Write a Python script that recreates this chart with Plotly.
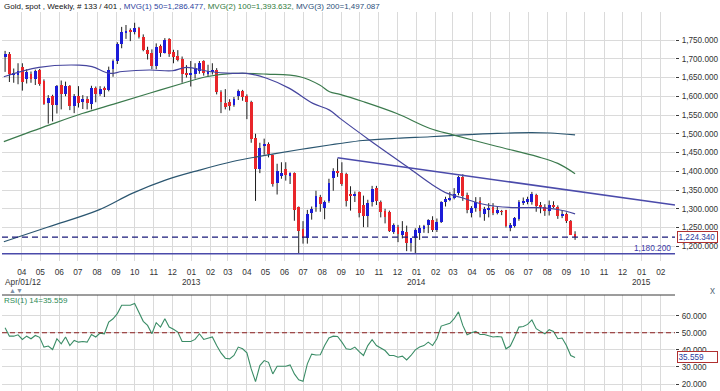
import pandas as pd
import plotly.graph_objects as go

# ---------------- data ----------------
start_week = "2012-03-05"   # first weekly bar (133 bars)

opens = [1704, 1712, 1657, 1658, 1678, 1645, 1660, 1645, 1670, 1640,
         1582, 1601, 1577, 1630, 1605, 1627, 1574, 1600, 1586, 1592,
         1580, 1622, 1606, 1622, 1617, 1673, 1694, 1740, 1770, 1775,
         1772, 1781, 1757, 1724, 1716, 1680, 1735, 1716, 1752, 1718,
         1708, 1700, 1662, 1658, 1660, 1668, 1693, 1660, 1667, 1670,
         1612, 1582, 1584, 1578, 1600, 1614, 1602, 1584, 1490, 1405,
         1468, 1474, 1443, 1368, 1390, 1405, 1390, 1396, 1306, 1245,
         1222, 1290, 1305, 1332, 1302, 1320, 1381, 1402, 1396, 1394,
         1340, 1333, 1346, 1310, 1280, 1318, 1355, 1319, 1295, 1292,
         1239, 1252, 1230, 1239, 1208, 1221, 1236, 1247, 1257, 1270,
         1243, 1265, 1318, 1325, 1328, 1341, 1385, 1337, 1290, 1303,
         1320, 1286, 1298, 1305, 1290, 1294, 1297, 1250, 1255, 1274,
         1316, 1319, 1319, 1337, 1310, 1306, 1294, 1310, 1305, 1280,
         1287, 1268, 1234]
highs = [1721, 1718, 1674, 1688, 1688, 1672, 1666, 1671, 1673, 1645,
         1603, 1604, 1630, 1642, 1639, 1630, 1606, 1627, 1603, 1600,
         1628, 1626, 1627, 1626, 1679, 1698, 1744, 1785, 1790, 1781,
         1796, 1785, 1765, 1732, 1725, 1741, 1738, 1755, 1755, 1724,
         1723, 1706, 1683, 1694, 1688, 1694, 1696, 1684, 1688, 1675,
         1616, 1619, 1592, 1598, 1618, 1617, 1605, 1588, 1500, 1476,
         1487, 1477, 1445, 1420, 1424, 1424, 1397, 1397, 1306, 1267,
         1297, 1306, 1348, 1337, 1322, 1380, 1408, 1434, 1424, 1396,
         1360, 1346, 1346, 1335, 1324, 1361, 1361, 1322, 1300, 1295,
         1261, 1257, 1267, 1255, 1221, 1248, 1256, 1257, 1272, 1280,
         1274, 1320, 1332, 1345, 1355, 1388, 1392, 1343, 1307, 1331,
         1331, 1305, 1315, 1315, 1305, 1297, 1297, 1262, 1278, 1323,
         1330, 1332, 1345, 1340, 1318, 1312, 1322, 1320, 1309, 1296,
         1290, 1270, 1240]
lows = [1665, 1638, 1636, 1632, 1615, 1634, 1636, 1630, 1628, 1577,
        1527, 1533, 1554, 1565, 1600, 1563, 1555, 1570, 1566, 1565,
        1565, 1584, 1601, 1598, 1613, 1652, 1686, 1728, 1753, 1747,
        1765, 1754, 1720, 1698, 1672, 1672, 1705, 1714, 1705, 1688,
        1693, 1636, 1650, 1626, 1647, 1660, 1655, 1652, 1658, 1605,
        1555, 1565, 1562, 1572, 1590, 1588, 1539, 1476, 1321, 1395,
        1444, 1437, 1359, 1338, 1380, 1375, 1366, 1268, 1180, 1207,
        1207, 1271, 1292, 1292, 1272, 1316, 1348, 1385, 1361, 1306,
        1295, 1318, 1277, 1251, 1251, 1306, 1310, 1277, 1261, 1238,
        1233, 1211, 1221, 1187, 1186, 1182, 1217, 1236, 1235, 1238,
        1238, 1262, 1306, 1320, 1325, 1336, 1321, 1288, 1277, 1292,
        1277, 1268, 1277, 1283, 1285, 1283, 1250, 1240, 1250, 1268,
        1310, 1312, 1311, 1292, 1288, 1281, 1282, 1302, 1273, 1275,
        1262, 1230, 1217]
closes = [1712, 1659, 1662, 1667, 1638, 1664, 1645, 1668, 1632, 1580,
          1595, 1577, 1628, 1605, 1628, 1574, 1600, 1582, 1592, 1583,
          1622, 1606, 1620, 1617, 1671, 1694, 1740, 1772, 1775, 1772,
          1783, 1758, 1724, 1714, 1680, 1731, 1716, 1751, 1712, 1706,
          1697, 1660, 1657, 1660, 1675, 1690, 1661, 1667, 1670, 1612,
          1584, 1572, 1574, 1592, 1614, 1598, 1586, 1485, 1405, 1462,
          1474, 1447, 1365, 1400, 1395, 1390, 1395, 1298, 1240, 1223,
          1285, 1300, 1335, 1314, 1318, 1370, 1402, 1398, 1366, 1320,
          1335, 1340, 1290, 1280, 1315, 1352, 1322, 1292, 1279, 1242,
          1256, 1234, 1240, 1208, 1221, 1243, 1250, 1254, 1270, 1243,
          1265, 1318, 1325, 1328, 1340, 1385, 1335, 1296, 1303, 1318,
          1293, 1300, 1302, 1290, 1296, 1292, 1254, 1257, 1276, 1318,
          1319, 1326, 1339, 1308, 1306, 1294, 1310, 1305, 1280, 1287,
          1268, 1231, 1224.34]

rsi = [52.9, 48.0, 48.0, 48.8, 46.1, 48.0, 46.5, 48.4, 47.3, 41.6,
       42.2, 40.2, 46.5, 43.5, 47.5, 42.5, 45.5, 44.5, 44.9, 44.5,
       49.0, 47.5, 49.8, 49.4, 56.3, 58.2, 61.2, 66.1, 66.1, 66.1,
       67.1, 62.2, 56.7, 54.3, 49.4, 55.9, 53.3, 58.2, 53.3, 52.0,
       50.4, 44.9, 44.9, 44.9, 46.1, 49.4, 46.1, 46.9, 47.5, 42.5,
       38.2, 35.1, 34.7, 36.7, 41.6, 40.6, 38.2, 28.8, 21.4, 30.8,
       33.7, 32.7, 25.9, 30.4, 30.4, 30.4, 31.2, 25.9, 22.5, 21.6,
       31.8, 37.5, 37.0, 37.1, 42.5, 46.9, 48.0, 47.8, 44.5, 40.6,
       40.2, 41.6, 39.0, 36.7, 42.5, 45.9, 42.5, 40.8, 39.6, 36.7,
       36.7, 35.7, 36.3, 34.1, 36.7, 40.0, 41.6, 42.5, 44.5, 42.5,
       46.5, 53.9, 54.7, 55.5, 58.2, 62.2, 54.3, 48.8, 50.0, 50.8,
       49.0, 49.0, 48.2, 47.5, 47.8, 47.5, 40.6, 42.2, 47.5, 53.3,
       53.7, 54.9, 57.5, 52.4, 50.8, 49.4, 51.8, 50.8, 46.5, 46.9,
       42.5, 36.7, 35.559]

ma50_dates = ["2012-03-03", "2012-04-29", "2012-07-03", "2012-07-24", "2012-08-21",
              "2012-09-11", "2012-10-25", "2012-12-01", "2012-12-24", "2013-01-30",
              "2013-03-09", "2013-03-31", "2013-05-03", "2013-06-09", "2013-07-17",
              "2013-08-13", "2013-08-30", "2013-10-17", "2013-12-17", "2014-01-23",
              "2014-02-20", "2014-03-18", "2014-04-14", "2014-05-12", "2014-06-13",
              "2014-07-16", "2014-08-18", "2014-09-15"]
ma50_vals = [1652, 1677, 1683, 1679, 1661, 1666, 1670, 1668, 1677, 1666,
             1661, 1661, 1648, 1621, 1581, 1563, 1541, 1483, 1412, 1368,
             1341, 1328, 1314, 1306, 1303, 1303, 1298, 1286.477]

ma100_dates = ["2012-03-03", "2012-05-15", "2012-07-08", "2012-09-01", "2012-10-25",
               "2012-12-17", "2013-01-25", "2013-03-09", "2013-05-03", "2013-06-26",
               "2013-07-28", "2013-08-13", "2013-08-30", "2013-10-06", "2013-11-30",
               "2014-01-23", "2014-03-01", "2014-05-12", "2014-07-16", "2014-08-18",
               "2014-09-15"]
ma100_vals = [1479, 1523, 1554, 1581, 1608, 1634, 1652, 1661, 1659, 1652,
              1630, 1612, 1605, 1586, 1554, 1514, 1497, 1466, 1439, 1421,
              1393.632]

ma200_dates = ["2012-03-03", "2012-05-15", "2012-08-04", "2012-09-27", "2012-11-21",
               "2013-01-14", "2013-03-09", "2013-05-03", "2013-06-26", "2013-08-13",
               "2013-08-30", "2013-10-06", "2013-11-30", "2014-01-23", "2014-03-18",
               "2014-05-12", "2014-07-05", "2014-08-06", "2014-09-15"]
ma200_vals = [1212, 1252, 1297, 1341, 1377, 1403, 1426, 1443, 1458, 1470,
              1474, 1482, 1488, 1492, 1497, 1501, 1503, 1502, 1497.087]

trend_dates = ["2013-08-26", "2015-02-24"]
trend_vals = [1436, 1310]

last_price = 1224.34
support_level = 1180.2
rsi_last = 35.559
rsi_mid = 50

price_ticks = [1200, 1250, 1300, 1350, 1400, 1450, 1500, 1550, 1600, 1650, 1700, 1750]
rsi_ticks = [20, 30, 40, 50, 60]
year_labels = [("2013-01-01", "2013"), ("2014-01-01", "2014"), ("2015-01-01", "2015")]

# ---------------- figure ----------------
FONT = "Liberation Sans, Arial, sans-serif"
W, H = 720, 391
weeks = pd.date_range(start_week, periods=len(closes), freq="7D")

fig = go.Figure()

wx, wy = [], []
for d, hi, lo in zip(weeks, highs, lows):
    wx += [d, d, None]
    wy += [lo, hi, None]
fig.add_trace(go.Scatter(x=wx, y=wy, mode="lines", line=dict(color="#1e1e1e", width=1),
                         hoverinfo="skip", xaxis="x", yaxis="y", zorder=0))

base = [min(o, c) for o, c in zip(opens, closes)]
height = [max(abs(c - o), 1.6) for o, c in zip(opens, closes)]
colors = ["#1c1cd8" if c >= o else "#e8262a" for o, c in zip(opens, closes)]
fig.add_trace(go.Bar(x=weeks, y=height, base=base, width=4.6 * 86400000,
                     marker=dict(color=colors, line=dict(width=0)),
                     xaxis="x", yaxis="y", zorder=1))

fig.add_trace(go.Scatter(x=ma200_dates, y=ma200_vals, mode="lines", line=dict(color="#2b5670", width=1.2, shape="spline"),
                         xaxis="x", yaxis="y", zorder=2))
fig.add_trace(go.Scatter(x=ma100_dates, y=ma100_vals, mode="lines", line=dict(color="#3b7a4d", width=1.2, shape="spline"),
                         xaxis="x", yaxis="y", zorder=2))
fig.add_trace(go.Scatter(x=ma50_dates, y=ma50_vals, mode="lines", line=dict(color="#45459e", width=1.2, shape="spline"),
                         xaxis="x", yaxis="y", zorder=2))
fig.add_trace(go.Scatter(x=trend_dates, y=trend_vals, mode="lines", line=dict(color="#4b4bab", width=1.5),
                         xaxis="x", yaxis="y", zorder=2))

fig.add_trace(go.Scatter(x=weeks, y=rsi, mode="lines", line=dict(color="#3a8c66", width=1.1),
                         xaxis="x2", yaxis="y2"))

xd = [2 / W, 675 / W]
grid = "#dadada"
frame = "#3a3a3a"
x_range = ["2012-02-29", "2015-02-24"]

fig.update_layout(
    width=W, height=H, margin=dict(l=0, r=0, t=0, b=0),
    paper_bgcolor="white", plot_bgcolor="white", showlegend=False,
    font=dict(family=FONT, size=8, color="#333"),
    bargap=0,
    xaxis=dict(domain=xd, anchor="y", type="date", range=x_range,
               tick0="2012-01-01", dtick="M1", tickformat="%m", ticks="",
               showgrid=True, gridcolor=grid, gridwidth=1,
               showline=True, mirror=True, linecolor=frame, linewidth=1,
               tickfont=dict(size=8.3, color="#333"), ticklabelstandoff=3, zeroline=False),
    yaxis=dict(domain=[1 - 261 / H, 1 - 12 / H], anchor="x", side="right",
               range=[1160.7, 1824.7], tickvals=price_ticks, tickformat=",.3f",
               ticks="outside", ticklen=3, tickcolor=frame, ticklabelstandoff=1,
               showgrid=True, gridcolor=grid, gridwidth=1,
               showline=True, mirror=True, linecolor=frame, linewidth=1,
               tickfont=dict(size=8.2, color="#333"), zeroline=False),
    xaxis2=dict(domain=xd, anchor="y2", type="date", matches="x",
                tick0="2012-01-01", dtick="M1", showticklabels=False, ticks="",
                showgrid=True, gridcolor=grid, gridwidth=1, showline=False, zeroline=False),
    yaxis2=dict(domain=[0, 1 - 295 / H], anchor="x2", side="right",
                range=[15.9, 72.1], tickvals=rsi_ticks, tickformat=".3f",
                ticks="outside", ticklen=3, tickcolor=frame, ticklabelstandoff=1,
                showgrid=True, gridcolor=grid, gridwidth=1,
                showline=True, mirror=True, linecolor=frame, linewidth=1,
                tickfont=dict(size=8.2, color="#333"), zeroline=False),
)

shapes = [
    dict(type="line", xref="x domain", yref="y", x0=0, x1=1, y0=last_price, y1=last_price,
         line=dict(color="#1a1a7a", width=1.2, dash="6px,4px")),
    dict(type="line", xref="x domain", yref="y", x0=0, x1=1, y0=support_level, y1=support_level,
         line=dict(color="#4a4aaa", width=1.5)),
    dict(type="line", xref="x2 domain", yref="y2", x0=0, x1=1, y0=rsi_mid, y1=rsi_mid,
         line=dict(color="#8b1c1c", width=1.2, dash="5px,3px")),
    dict(type="line", xref="paper", yref="paper", x0=xd[0], x1=xd[1], y0=1 - 295 / H, y1=1 - 295 / H,
         line=dict(color=frame, width=1)),
]
fig.update_layout(shapes=shapes)

ann = []
title_html = ("Gold, spot , Weekly, # 133 / 401 , "
              "<span style='color:#2d3f9e'>MVG(1) 50=1,286.477,</span> "
              "<span style='color:#2f7a3c'>MVG(2) 100=1,393.632,</span> "
              "<span style='color:#2b4f7a'>MVG(3) 200=1,497.087</span>")
ann.append(dict(text=title_html, xref="paper", yref="paper", x=2 / W, y=1 - 6 / H,
                xanchor="left", yanchor="middle", showarrow=False,
                font=dict(family=FONT, size=8, color="#111")))
ann.append(dict(text="RSI(1) 14=35.559", xref="paper", yref="paper", x=2 / W, y=1 - 300 / H,
                xanchor="left", yanchor="middle", showarrow=False,
                font=dict(family=FONT, size=8, color="#2e8b57")))
ann.append(dict(text="Apr/01/12", xref="paper", yref="paper", x=3 / W, y=1 - 282 / H,
                xanchor="left", yanchor="middle", showarrow=False,
                font=dict(family=FONT, size=8.3, color="#333")))
for d, t in year_labels:
    ann.append(dict(text=t, xref="x", yref="paper", x=d, y=1 - 282 / H,
                    xanchor="center", yanchor="middle", showarrow=False,
                    font=dict(family=FONT, size=8.3, color="#333")))
ann.append(dict(text="1,224.340", xref="paper", yref="y", x=677 / W, y=last_price,
                xanchor="left", yanchor="middle", showarrow=False, align="left",
                width=38, height=9, borderpad=0.5, bordercolor="#b03030", borderwidth=1,
                bgcolor="white", font=dict(family=FONT, size=8.2, color="#2a3a9e")))
ann.append(dict(text="35.559", xref="paper", yref="y2", x=677 / W, y=rsi_last,
                xanchor="left", yanchor="middle", showarrow=False, align="left",
                width=38, height=9, borderpad=0.5, bordercolor="#b03030", borderwidth=1,
                bgcolor="white", font=dict(family=FONT, size=8.2, color="#2a3a9e")))
ann.append(dict(text="1,180.200", xref="paper", yref="y", x=673 / W, y=support_level,
                xanchor="right", yanchor="bottom", showarrow=False, yshift=-1,
                font=dict(family=FONT, size=8.3, color="#3a3aa8")))
ann.append(dict(text="▲▼", xref="paper", yref="paper", x=7 / W, y=1 - 290 / H,
                xanchor="left", yanchor="middle", showarrow=False,
                font=dict(family=FONT, size=7, color="#8090a8")))
ann.append(dict(text="x", xref="paper", yref="paper", x=712 / W, y=1 - 290 / H,
                xanchor="center", yanchor="middle", showarrow=False,
                font=dict(family=FONT, size=10, color="#607080")))
fig.update_layout(annotations=ann)

fig.write_html("out.html", config={"displayModeBar": False},
               post_script="document.body.style.margin='0';document.body.style.overflow='hidden';")
